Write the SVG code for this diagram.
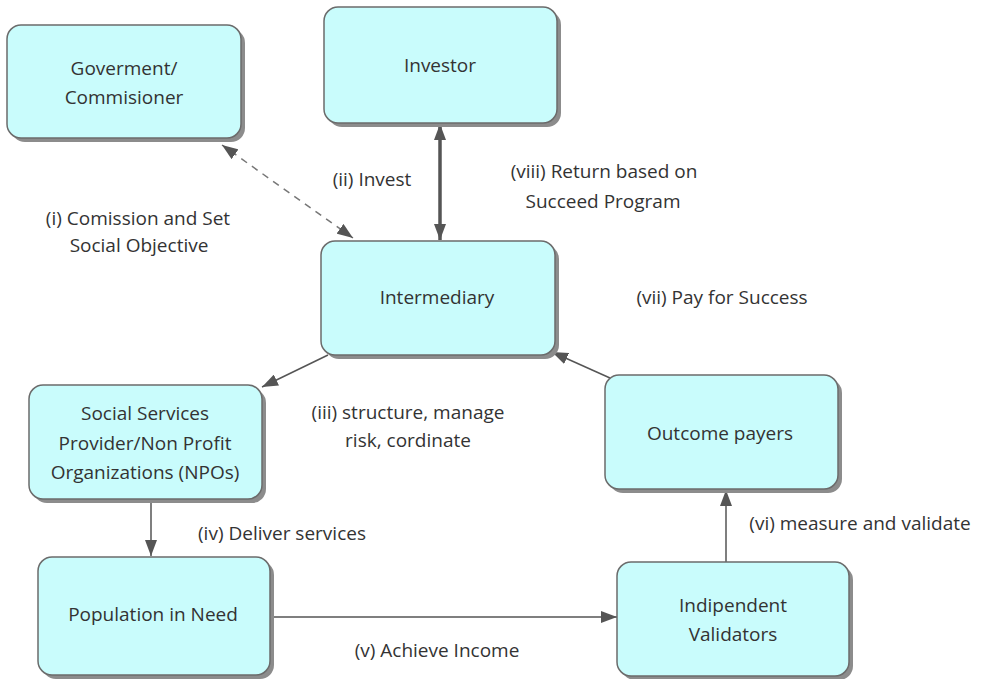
<svg xmlns="http://www.w3.org/2000/svg" width="987" height="679" viewBox="0 0 987 679">
<defs>
<style>
.shadow{fill:#8c8c8c;}
.box{fill:#c9fcfc;stroke:#6b6b6b;stroke-width:1.5;}
text{font-family:"Open Sans","Noto Sans","Liberation Sans",sans-serif;font-size:19px;fill:#333;text-anchor:middle;}
.con{stroke:#555;stroke-width:1.5;fill:none;}
.thick{stroke-width:3.5;}
.dash{stroke:#777;stroke-dasharray:7,6;}
</style>
<marker id="arr" viewBox="0 0 16 12" refX="16" refY="6" markerWidth="16" markerHeight="12" markerUnits="userSpaceOnUse" orient="auto-start-reverse">
<path d="M0,0 L16,6 L0,12 z" fill="#555"/>
</marker>
</defs>
<rect width="987" height="679" fill="#fff"/>
<g id="connectors">
<path class="con dash" d="M353,238 L222,145" marker-start="url(#arr)" marker-end="url(#arr)"/>
<path class="con thick" d="M440,124 L440,240" marker-start="url(#arr)" marker-end="url(#arr)"/>
<path class="con" d="M328,355 L262,387" marker-end="url(#arr)"/>
<path class="con" d="M610,378 L552,352" marker-end="url(#arr)"/>
<path class="con" d="M151,499 L151,556" marker-end="url(#arr)"/>
<path class="con" d="M270,617 L617,617" marker-end="url(#arr)"/>
<path class="con" d="M726,562 L726,490" marker-end="url(#arr)"/>
</g>
<g id="government">
<rect class="shadow" x="11" y="29" width="234" height="113" rx="14"/>
<rect class="box" x="7" y="25" width="234" height="113" rx="14"/>
<text x="124" y="75">Goverment/</text>
<text x="124" y="104">Commisioner</text>
</g>
<g id="investor">
<rect class="shadow" x="328" y="11" width="233" height="116" rx="14"/>
<rect class="box" x="324" y="7" width="233" height="116" rx="14"/>
<text x="440" y="72">Investor</text>
</g>
<g id="intermediary">
<rect class="shadow" x="325" y="245" width="234" height="114" rx="14"/>
<rect class="box" x="321" y="241" width="234" height="114" rx="14"/>
<text x="437" y="304">Intermediary</text>
</g>
<g id="social-services">
<rect class="shadow" x="33" y="389" width="233" height="114" rx="14"/>
<rect class="box" x="29" y="385" width="233" height="114" rx="14"/>
<text x="145" y="420">Social Services</text>
<text x="145" y="450">Provider/Non Profit</text>
<text x="145" y="479">Organizations (NPOs)</text>
</g>
<g id="population">
<rect class="shadow" x="42" y="561" width="232" height="118" rx="14"/>
<rect class="box" x="38" y="557" width="232" height="118" rx="14"/>
<text x="153" y="621">Population in Need</text>
</g>
<g id="outcome-payers">
<rect class="shadow" x="609" y="379" width="233" height="114" rx="14"/>
<rect class="box" x="605" y="375" width="233" height="114" rx="14"/>
<text x="720" y="440">Outcome payers</text>
</g>
<g id="validators">
<rect class="shadow" x="621" y="566" width="232" height="114" rx="14"/>
<rect class="box" x="617" y="562" width="232" height="114" rx="14"/>
<text x="733" y="612">Indipendent</text>
<text x="733" y="641">Validators</text>
</g>
<g id="labels">
<text x="138" y="225">(i) Comission and Set</text>
<text x="139" y="252">Social Objective</text>
<text x="372" y="186">(ii) Invest</text>
<text x="604" y="178">(viii) Return based on</text>
<text x="603" y="208">Succeed Program</text>
<text x="722" y="304">(vii) Pay for Success</text>
<text x="408" y="419">(iii) structure, manage</text>
<text x="408" y="447">risk, cordinate</text>
<text x="282" y="540">(iv) Deliver services</text>
<text x="437" y="657">(v) Achieve Income</text>
<text x="860" y="530">(vi) measure and validate</text>
</g>
</svg>
